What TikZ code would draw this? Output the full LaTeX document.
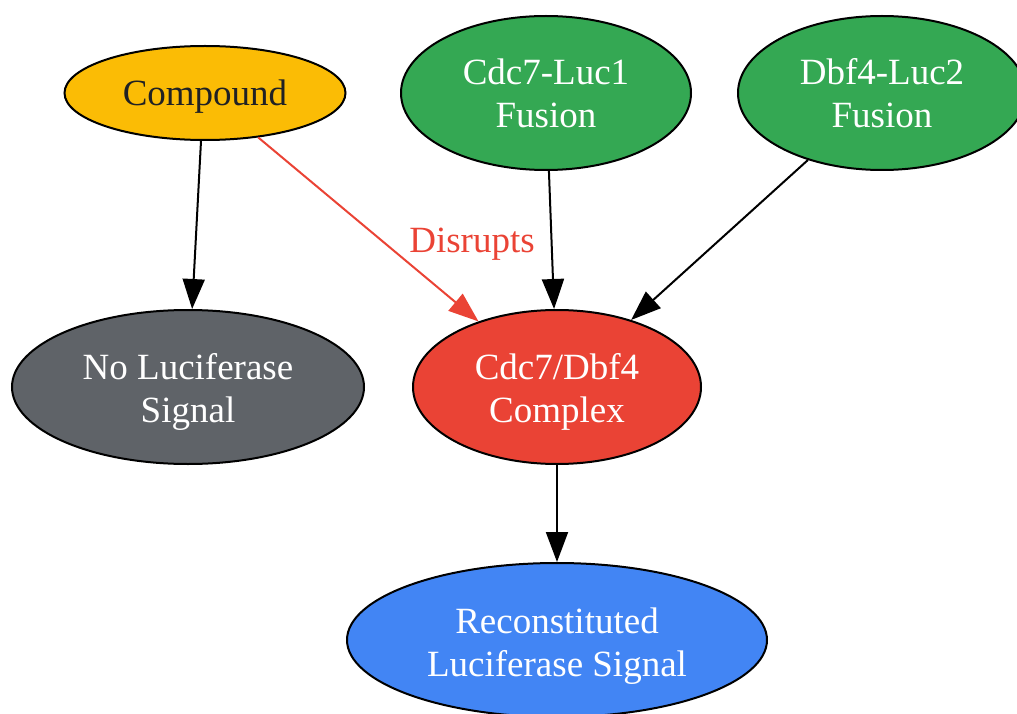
\documentclass[tikz,border=0pt]{standalone}
\usepackage{fontspec}
\setmainfont{Liberation Serif}
\usetikzlibrary{shapes.geometric,arrows.meta}
\definecolor{gyellow}{HTML}{FBBC05}
\definecolor{ggreen}{HTML}{34A853}
\definecolor{ggray}{HTML}{5F6368}
\definecolor{gred}{HTML}{EA4335}
\definecolor{gblue}{HTML}{4285F4}
\definecolor{gdark}{HTML}{202124}
\begin{document}
\begin{tikzpicture}[x=1pt,y=-1pt,
  ell/.style={ellipse,draw=black,line width=2pt,inner sep=0pt},
  txt/.style={inner sep=0pt,font=\fontsize{37}{43}\selectfont,align=center,text=white},
  conn/.style={line width=2pt,-{Triangle[length=30pt,width=22pt]}}]
\useasboundingbox (0,0) rectangle (1017,714);
\node[ell,fill=gyellow,minimum width=281pt,minimum height=94pt] (cmp) at (205,93) {};
\node[ell,fill=ggreen,minimum width=290pt,minimum height=154pt] (c7) at (546,93) {};
\node[ell,fill=ggreen,minimum width=288pt,minimum height=154pt] (d4) at (882,93) {};
\node[ell,fill=ggray,minimum width=352pt,minimum height=154pt] (no) at (188,387) {};
\node[ell,fill=gred,minimum width=288pt,minimum height=154pt] (cx) at (557,387) {};
\node[ell,fill=gblue,minimum width=420pt,minimum height=154pt] (rc) at (557,640) {};
\node[txt,text=gdark] (cmpt) at ([yshift=-4pt]cmp.center) {Compound};
\node[txt] (c7t) at (c7.center) {Cdc7-Luc1\\Fusion};
\node[txt] (d4t) at (d4.center) {Dbf4-Luc2\\Fusion};
\node[txt] (not) at ([yshift=-5pt]no.center) {No Luciferase\\Signal};
\node[txt] (cxt) at ([yshift=-5pt]cx.center) {Cdc7/Dbf4\\Complex};
\node[txt] (rct) at ([yshift=-6pt]rc.center) {Reconstituted\\Luciferase Signal};
\draw[conn] (cmp.south) ++(-4,0) -- (no);
\draw[conn] (c7) -- (cx);
\draw[conn] (d4) -- (cx);
\draw[conn] (cx) -- (rc);
\draw[conn,draw=gred,fill=gred] (cmp) -- (cx);
\node[txt,text=gred] (lbl) at (472,244) {Disrupts};
\end{tikzpicture}
\end{document}
